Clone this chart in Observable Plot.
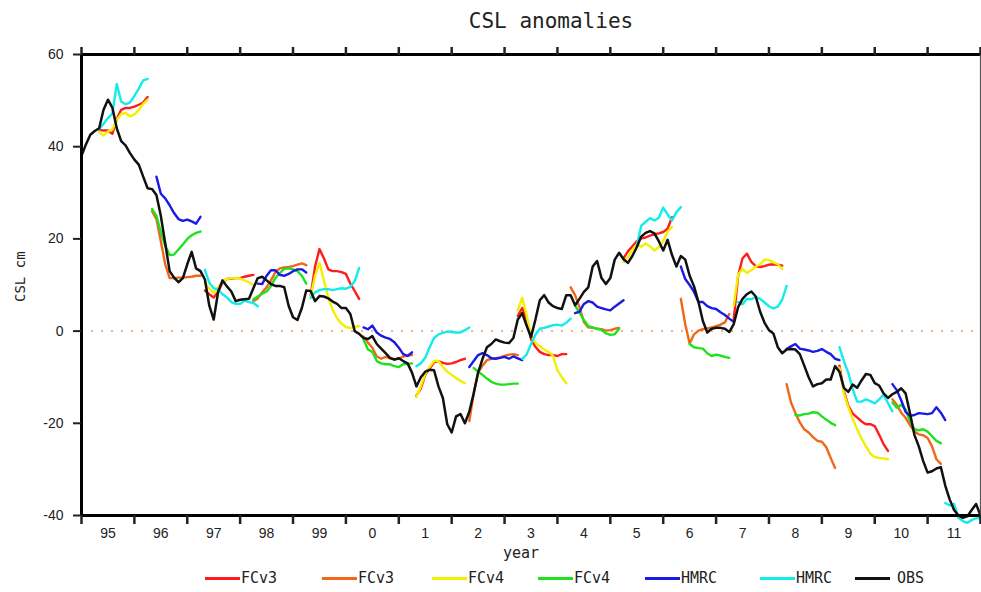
<!DOCTYPE html>
<html><head><meta charset="utf-8">
<script src="https://cdn.jsdelivr.net/npm/d3@7"></script>
<script src="https://cdn.jsdelivr.net/npm/@observablehq/plot@0.6"></script>
<style>
body{margin:0;background:#fff;width:981px;height:592px;overflow:hidden;}
#title{height:40px;line-height:42px;padding-left:121px;width:860px;text-align:center;font-family:"DejaVu Sans Mono",monospace;font-size:21px;color:#222;}
#chart{height:525px;}
#legend{position:relative;height:27px;font-family:"DejaVu Sans Mono",monospace;font-size:15px;color:#222;}
.item{position:absolute;top:3px;height:20px;display:flex;align-items:center;}
.sw{width:35px;height:3px;margin-right:1px;}
</style></head><body>
<div id="title">CSL anomalies</div>
<div id="chart"></div>
<div id="legend"></div>
<script>
// monthly values, index 0 = Jan 1995
const START_YEAR = 1995;
const yearLabels = ["95","96","97","98","99","0","1","2","3","4","5","6","7","8","9","10","11"];
const seriesNames = ["FCv3","FCv3","FCv4","FCv4","HMRC","HMRC","OBS"];
const seriesColors = ["#ff1c1c","#f0661a","#f2f000","#1ee21e","#1a1ae6","#14ecec","#111111"];
const legendLeft = [205, 322, 432, 538, 645, 760, 855];

const obs = [38,40.5,42.6,43.4,44,48,50.2,48.5,44,41.2,40.3,38.6,37.2,36.1,33.5,31,30.8,29.5,25,19,
13,11.6,10.6,11.5,14.5,17.2,13.6,13,11.2,5.5,2.5,8.5,11,9.7,8.6,6.5,6.8,6.9,7,9.3,
11.5,11.8,11,10.2,9.8,9.8,9.5,5.5,3,2.4,5,8.8,8.7,6.5,7.6,7.5,7.1,6.4,5.9,5,
5,3.7,0,-0.6,-1.5,-1.7,-1.1,-2.8,-3.8,-4.8,-5.8,-6.2,-5.9,-6.5,-7,-9,-12,-10,-8.8,-8.4,
-8.5,-12,-14.5,-20.2,-22,-18.5,-18,-20,-17.5,-13.5,-9,-6,-3.5,-2.8,-1.8,-2.2,-2.5,-2.6,-1.5,2.5,
3.9,1.2,-1.3,2.5,6.7,7.8,6.2,5.4,5,4.8,7.8,7.8,5.6,7,8.5,9.5,14,15.2,11.5,10.2,
11.5,15.5,17,15.6,14.8,16.3,18.2,20.5,21.3,21.7,21.2,19.5,17.5,19.8,16.5,14,16.3,15.5,12,9.7,
6.3,2.2,-0.3,0.5,0.7,0.7,0.5,-0.2,1.5,5.2,7,8,8.6,7.5,4.2,1.8,0.2,-0.5,-3.5,-4.8,
-4,-3.9,-4,-5,-7.5,-10,-12,-11.5,-11.3,-10.5,-10.5,-7.6,-8.8,-12.3,-13.2,-11.6,-12.3,-10.7,-9.3,-9.5,
-11.3,-11.8,-13.5,-14.5,-13.7,-13.2,-12.4,-13.5,-17.8,-22.5,-25,-28.2,-30.7,-30.4,-29.8,-29.5,-33.5,-36.5,-38.8,-40,
-40.5,-40.2,-38.8,-37.5,-40];

// forecast segments: [start month index, monthly values]
const fcv3Red = [
  [4, [43.7,43.5,43.5,42.8,46,48,48.4,48.4,48.7,49.1,49.6,50.8]],
  [28, [8.8,8,7.3,8.5,10.6,11.3,11.4,11.5,11.5,11.8,12,12.2]],
  [52, [7.7,14,17.8,15.8,13.4,13,13,12.8,12.4,10.3,8.7,7]],
  [76, [-14,-12.5,-9.5,-8.2,-6.8,-6.5,-6.9,-7.1,-7,-6.7,-6.3,-6]],
  [99, [3.3,5,2.8,-1.8,-3.4,-4.5,-5,-5.2,-5.2,-5.4,-5,-5]],
  [123, [15.8,17.3,18.4,19.5,20.1,20.3,20.7,21,21.2,21.5,22.2,24.7]],
  [148, [2.5,12,15.8,16.8,15,14.1,13.9,14.1,14.4,14.5,14.4,14.2]],
  [172, [-7.5,-13,-16.2,-17.9,-18.7,-19.6,-20.2,-20.2,-20.6,-22.5,-24.5,-26]]
];
const fcv3Orange = [
  [16, [26,24.3,19.5,14.5,11.5,11.5,11.6,11.6,11.7,11.8,12,12]],
  [39, [6.5,7.1,8.4,9.5,11,12.8,13.6,13.8,13.9,14.1,14.4,14.7,14.3]],
  [64, [-1.2,-2.5,-3.6,-5.5,-6,-5.6,-5.9,-6.1,-6,-5.5,-5.3,-5.2]],
  [88, [-19.5,-13.5,-9,-7.5,-6.3,-6,-5.9,-5.7,-5.4,-5.1,-5,-5.2]],
  [111, [9.5,7.8,5.2,2,0.8,0.7,0.5,0.4,0.1,0.2,0.5,0.7]],
  [136, [7,1.5,-2.7,-0.7,0.1,0.4,0.6,0.8,1.1,1.4,1.9,3.7]],
  [160, [-11.5,-15.5,-17.8,-19.8,-21.3,-22,-23,-23.8,-24,-25.2,-27.5,-29.7]],
  [184, [-14.8,-16,-17.7,-18.8,-20.4,-21.8,-22.4,-22.6,-23.2,-25,-27.8,-28.8]]
];
const fcv4Yellow = [
  [4, [43.2,42.4,43.3,43.7,45.8,47.1,47.3,46.6,47,48,49.3,50.2]],
  [28, [10.5,9.2,8.3,9.5,10.8,11.3,11.5,11.5,11.4,11,10.6,10]],
  [52, [7.5,12,14.8,11,7.3,4.6,2.8,1.6,0.9,0.7,0.9,1.1]],
  [76, [-14.3,-12,-9.3,-7.8,-6.5,-6.5,-7.8,-8.8,-9.5,-10.2,-10.8,-11.3]],
  [99, [4.5,7.2,3.5,-1,-2.5,-3.3,-4,-4.5,-5.4,-8.5,-10,-11.3]],
  [123, [15,16,17.6,18.8,18.3,19,18.4,17.5,18.2,19.5,21.6,22.6]],
  [148, [5.5,12.3,13.5,12.6,13.2,14,14.5,15.5,15.4,14.9,14.5,13.5]],
  [172, [-8,-13.5,-16.5,-19,-21.3,-23.3,-25,-26.6,-27.3,-27.5,-27.6,-27.8]]
];
const fcv4Green = [
  [16, [26.5,25,21.5,18.5,16.5,16.6,17.7,18.8,20,20.8,21.3,21.6]],
  [39, [6.9,7.5,8.1,8.6,9.8,11.5,12.6,13.5,13.6,13.4,13,12,10.3]],
  [64, [-1.8,-4,-4.5,-6.5,-7,-7.2,-7.2,-7.6,-7.8,-7.2,-7.1,-7]],
  [89, [-8,-8.8,-9.5,-10.3,-11,-11.4,-11.6,-11.6,-11.5,-11.4,-11.4]],
  [112, [5.5,4,2.4,1.1,0.8,0.5,0.3,-0.5,-0.8,-0.7,0.5]],
  [138, [-2.8,-3.5,-3.7,-3.8,-4.8,-5.4,-5.1,-5.3,-5.6,-5.8]],
  [162, [-18.2,-18.3,-18,-17.9,-17.6,-17.7,-18.5,-19.2,-19.9,-20.4]],
  [184, [-15.5,-16.6,-16,-17,-19.5,-21.3,-21.5,-21.3,-21.8,-22.8,-23.8,-24.3]]
];
const hmrcBlue = [
  [17, [33.5,29.8,28.8,27.3,25.6,24.3,23.9,24.2,23.8,23.3,24.8]],
  [40, [10.3,10.2,12,13.2,13.2,12.2,12,12.4,13,13.4,13.4,12.7]],
  [64, [0.8,0.4,1.2,-0.3,-1,-1.4,-1.7,-2.4,-3.6,-5,-5.4,-4.6]],
  [88, [-7.8,-6.5,-5.2,-4.8,-5.2,-5.9,-6,-5.8,-5.6,-6,-5.5,-5.9,-6.3]],
  [112, [3.9,4.2,5.9,6.5,6.2,5.3,5,4.7,4.5,5.3,6,6.7]],
  [136, [14,11.3,10,8.5,6.3,6.3,5.4,5,4.8,4.1,3.5,2.7,2]],
  [160, [-3.9,-3.3,-2.8,-3.8,-4,-4.2,-4.5,-4.3,-3.9,-4.5,-5,-6,-6.3]],
  [184, [-11.5,-12.8,-15,-17.5,-18.4,-18.2,-17.8,-17.9,-18,-17.8,-16.5,-17.7,-19.3]]
];
const hmrcCyan = [
  [4, [43.8,45,46.2,47.2,53.6,49.8,49.2,49.6,51,52.6,54.4,54.7]],
  [28, [13.3,10.5,9.3,9,8,7.3,6.3,5.9,5.9,6.6,6.3,6.1,5.4]],
  [52, [7.2,8.4,8.9,9.1,9.1,8.9,9.1,9.3,9.2,9.6,10.8,13.7]],
  [76, [-7.6,-7,-5.8,-3.5,-1.5,-0.7,-0.4,-0.1,-0.2,-0.3,-0.3,0.2,0.8]],
  [100, [-6,-5.1,-2.8,-0.8,0.5,0.7,1,1.3,1.4,1.2,1.8,2.7]],
  [126, [18.5,22.8,23.7,24.5,24,24.6,26.8,25.3,24,25.8,26.9]],
  [149, [6.3,5.8,7,6.9,7.4,7,6.2,5.4,4.9,5.3,6.8,9.8]],
  [172, [-3.5,-6.5,-9,-12.6,-15.3,-15.3,-14.8,-15.2,-15.7,-14.8,-13.8,-15.6,-17.4]],
  [196, [-37.3,-37.8,-37.5,-40.5,-41.2,-41.6,-41,-40.6,-40.6]]
];

const forecastSets = [fcv3Red, fcv3Orange, fcv4Yellow, fcv4Green, hmrcBlue, hmrcCyan];
const fcRows = [];
forecastSets.forEach((segs, k) => segs.forEach(([s, vals], j) =>
  vals.forEach((v, m) => fcRows.push({t: START_YEAR + (s + m) / 12, v, key: k + "-" + j, color: seriesColors[k]}))));
const obsRows = obs.map((v, i) => ({t: START_YEAR + i / 12, v}));

const years = d3.range(START_YEAR, START_YEAR + yearLabels.length + 1);
const centers = yearLabels.map((_, i) => START_YEAR + i + 0.5);
const x0 = years[0], x1 = years[years.length - 1];

const chart = Plot.plot({
  width: 981, height: 525,
  marginLeft: 81, marginRight: 1, marginTop: 14, marginBottom: 50,
  x: {domain: [x0, x1]},
  y: {domain: [-40, 60]},
  color: {type: "identity"},
  style: {fontFamily: "'Liberation Sans', Arial, sans-serif", fontSize: "14px", color: "#222", background: "transparent", overflow: "visible"},
  marks: [
    Plot.ruleY([0], {stroke: "#e0a070", strokeDasharray: "2,8", strokeWidth: 1.5}),
    Plot.line(fcRows, {x: "t", y: "v", z: "key", stroke: "color", strokeWidth: 2.4}),
    Plot.line(obsRows, {x: "t", y: "v", stroke: "#111", strokeWidth: 2.5}),
    Plot.ruleY([-40, 60], {stroke: "#000", strokeWidth: 3}),
    Plot.ruleX([x0], {stroke: "#000", strokeWidth: 3}),
    Plot.ruleX([x1], {stroke: "#555", strokeWidth: 1.2}),
    Plot.axisY({ticks: [-40, -20, 0, 20, 40, 60], tickSize: 8, tickPadding: 10, tickFormat: d => String(d), label: null, strokeWidth: 2}),
    Plot.axisX({anchor: "bottom", ticks: years, tickSize: 9, tickFormat: () => "", label: null, strokeWidth: 2.5}),
    Plot.axisX({anchor: "top", ticks: years, tickSize: 8, tickFormat: () => "", label: null, strokeWidth: 2.5}),
    Plot.axisX({anchor: "bottom", ticks: centers, tickSize: 0, tickPadding: 13, fontSize: 14, tickFormat: d => yearLabels[Math.floor(d) - START_YEAR], label: null}),
    Plot.text(["year"], {frameAnchor: "bottom", dx: -10, dy: 42, fontSize: 15, fontFamily: "'DejaVu Sans Mono', monospace"}),
    Plot.text(["CSL cm"], {frameAnchor: "left", dx: -61, dy: 17, rotate: -90, fontSize: 14, fontFamily: "'DejaVu Sans Mono', monospace"})
  ]
});
document.getElementById("chart").appendChild(chart);

const legend = document.getElementById("legend");
seriesNames.forEach((name, i) => {
  const item = document.createElement("div");
  item.className = "item";
  item.style.left = legendLeft[i] + "px";
  const sw = document.createElement("span");
  sw.className = "sw";
  sw.style.background = seriesColors[i];
  if (name === "OBS") sw.style.marginRight = "7px";
  const tx = document.createElement("span");
  tx.textContent = name;
  item.appendChild(sw); item.appendChild(tx);
  legend.appendChild(item);
});
</script>
</body></html>
